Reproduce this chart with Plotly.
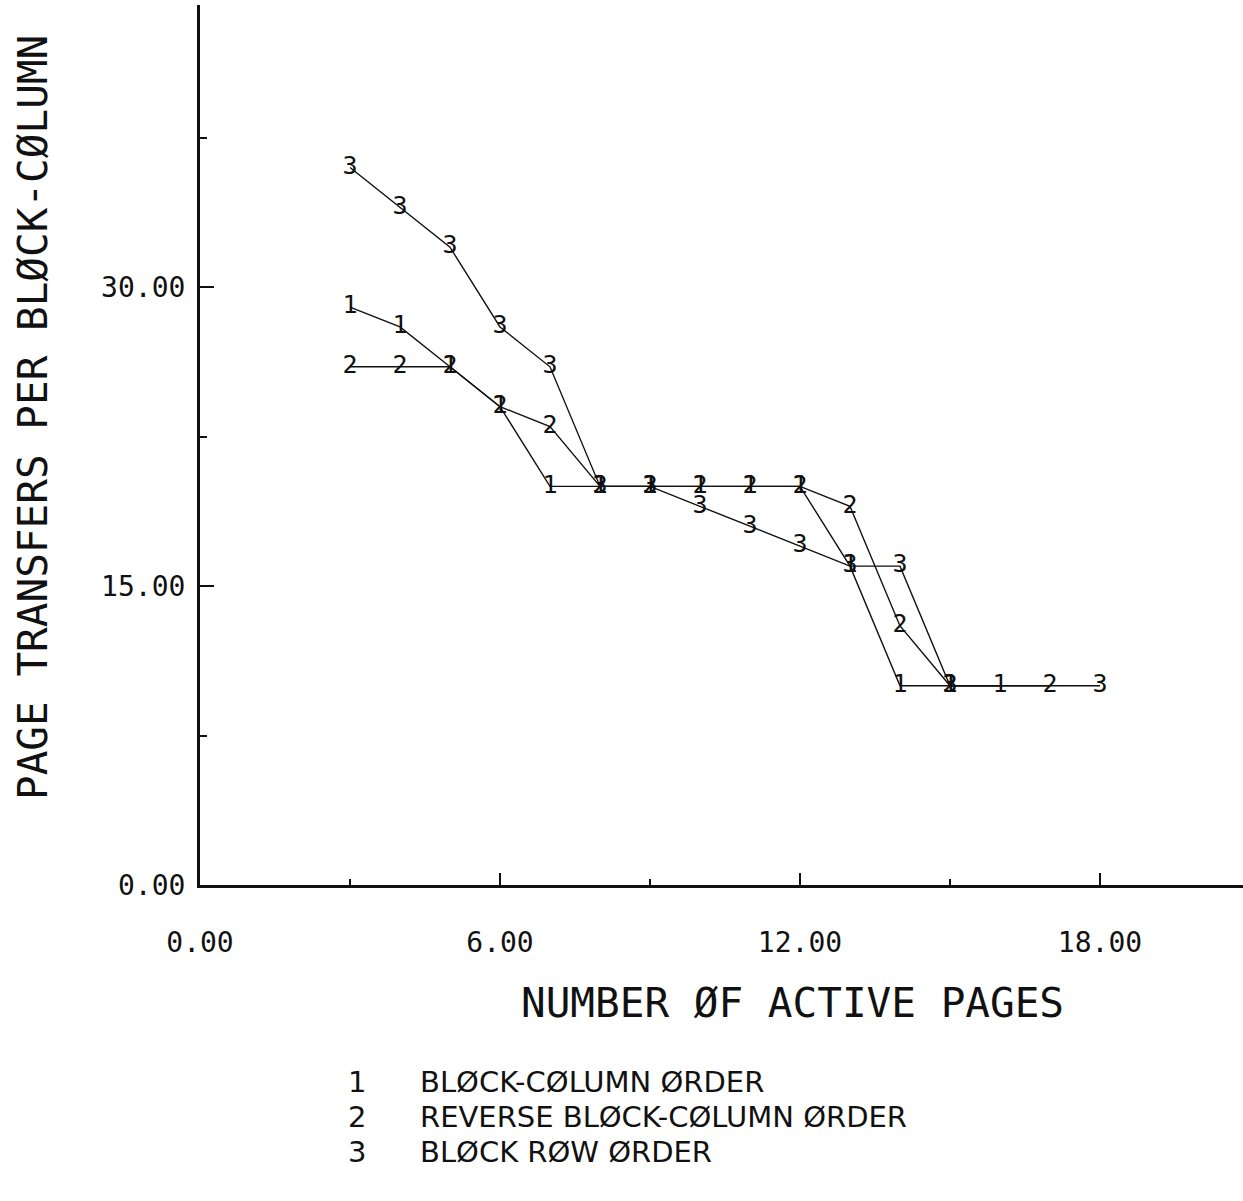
import plotly.graph_objects as go

# ---- data ----
pages_1 = [3, 4, 5, 6, 7, 8, 9, 10, 11, 12, 13, 14, 15, 16]
transfers_1 = [29, 28, 26, 24, 20, 20, 20, 20, 20, 20, 16, 10, 10, 10]

pages_2 = [3, 4, 5, 6, 7, 8, 9, 10, 11, 12, 13, 14, 15, 17]
transfers_2 = [26, 26, 26, 24, 23, 20, 20, 20, 20, 20, 19, 13, 10, 10]

pages_3 = [3, 4, 5, 6, 7, 8, 9, 10, 11, 12, 13, 14, 15, 18]
transfers_3 = [36, 34, 32, 28, 26, 20, 20, 19, 18, 17, 16, 16, 10, 10]

series_symbols = ["1", "2", "3"]
legend_labels = ["BLØCK-CØLUMN ØRDER", "REVERSE BLØCK-CØLUMN ØRDER", "BLØCK RØW ØRDER"]
x_title = "NUMBER ØF ACTIVE PAGES"
y_title = "PAGE TRANSFERS PER BLØCK-CØLUMN"

# ---- layout geometry (pixels) ----
W, H = 1243, 1201
L, R, T, B = 200, 0, 5, 316
pw, ph = W - L - R, H - T - B
XPX, YPX = 50.0, 19.93          # pixels per unit
xmax, ymax = pw / XPX, ph / YPX

FONT = "DejaVu Sans Mono"
LEG_FONT = "DejaVu Sans"
INK = "#111111"


def px2paper(px, py):
    return (px - L) / pw, (H - B - py) / ph


fig = go.Figure()
for xs, ys, sym in [(pages_1, transfers_1, series_symbols[0]),
                    (pages_2, transfers_2, series_symbols[1]),
                    (pages_3, transfers_3, series_symbols[2])]:
    fig.add_trace(go.Scatter(
        x=xs, y=ys, mode="lines+text",
        text=[sym] * len(xs), textposition="middle center",
        textfont=dict(family=FONT, size=25, color=INK),
        line=dict(color=INK, width=1.4),
        showlegend=False, cliponaxis=False,
    ))

annotations = []
# axis titles
ax, ay = px2paper(792, 1003)
annotations.append(dict(text=x_title, x=ax, y=ay, xref="paper", yref="paper",
                        showarrow=False, xanchor="center", yanchor="middle",
                        font=dict(family=FONT, size=41, color=INK)))
tx, ty = px2paper(33, 418)
annotations.append(dict(text=y_title, x=tx, y=ty, xref="paper", yref="paper",
                        showarrow=False, xanchor="center", yanchor="middle",
                        textangle=-90,
                        font=dict(family=FONT, size=41, color=INK)))
# legend block
row_y = [1082, 1117, 1152]
for sym, lab, ry in zip(series_symbols, legend_labels, row_y):
    sx, sy = px2paper(357, ry)
    annotations.append(dict(text=sym, x=sx, y=sy, xref="paper", yref="paper",
                            showarrow=False, xanchor="center", yanchor="middle",
                            font=dict(family=LEG_FONT, size=29, color=INK)))
    lx, ly = px2paper(418, ry)
    annotations.append(dict(text=lab, x=lx, y=ly, xref="paper", yref="paper",
                            showarrow=False, xanchor="left", yanchor="middle",
                            font=dict(family=LEG_FONT, size=29, color=INK)))

fig.update_layout(
    width=W, height=H,
    margin=dict(l=L, r=R, t=T, b=B, pad=0),
    paper_bgcolor="white", plot_bgcolor="white",
    showlegend=False,
    annotations=annotations,
    xaxis=dict(range=[0, xmax], tick0=0, dtick=6, tickformat=".2f",
               showgrid=False, zeroline=False,
               showline=True, linecolor=INK, linewidth=3,
               ticks="inside", ticklen=12, tickwidth=1.5, tickcolor=INK,
               ticklabelstandoff=30,
               tickfont=dict(family=FONT, size=28, color=INK),
               minor=dict(dtick=3, tick0=0, ticks="inside", ticklen=6,
                          tickwidth=1.5, tickcolor=INK, showgrid=False)),
    yaxis=dict(range=[0, ymax], tick0=0, dtick=15, tickformat=".2f",
               showgrid=False, zeroline=False,
               showline=True, linecolor=INK, linewidth=3,
               ticks="inside", ticklen=14, tickwidth=1.5, tickcolor=INK,
               ticklabelstandoff=6,
               tickfont=dict(family=FONT, size=28, color=INK),
               minor=dict(dtick=7.5, tick0=0, ticks="inside", ticklen=7,
                          tickwidth=1.5, tickcolor=INK, showgrid=False)),
)

fig.write_html("out.html")
